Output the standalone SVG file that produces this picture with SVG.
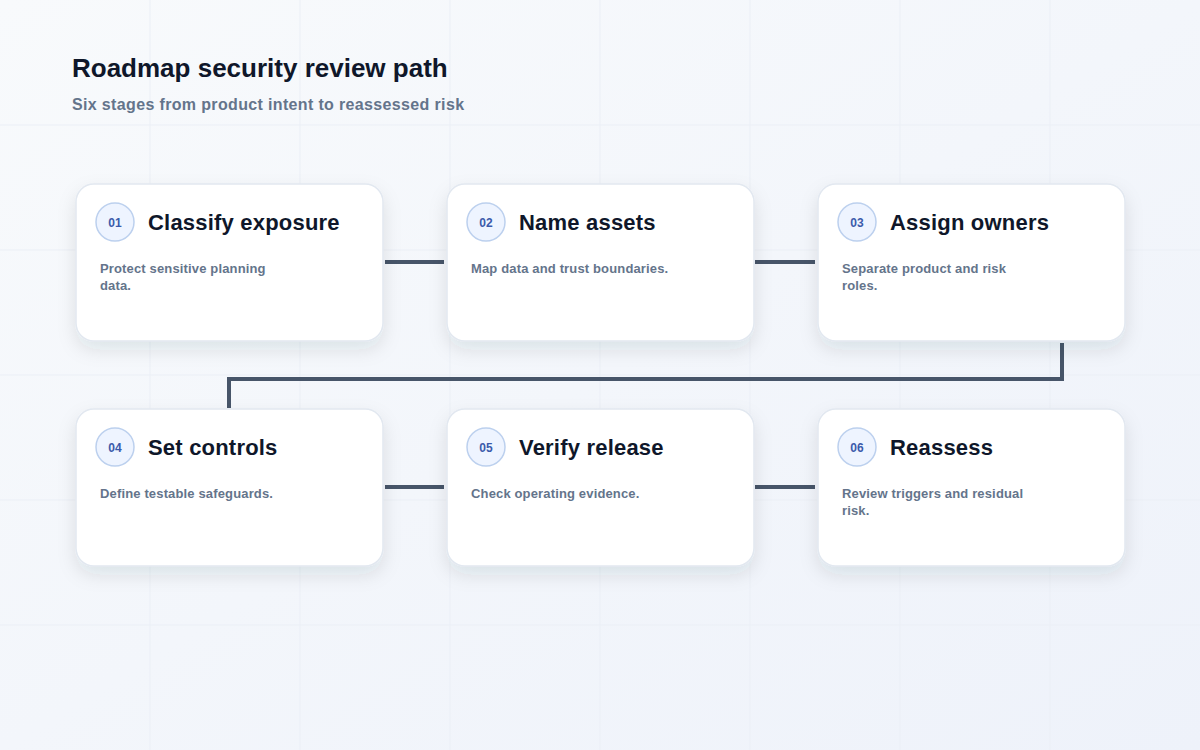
<svg xmlns="http://www.w3.org/2000/svg" width="1200" height="750" viewBox="0 0 1200 750">
<defs>
<linearGradient id="bg" x1="0" y1="0" x2="1" y2="1"><stop offset="0" stop-color="#f8fafc"/><stop offset="1" stop-color="#eef2fa"/></linearGradient>
<filter id="sh" x="-20%" y="-20%" width="140%" height="150%"><feDropShadow dx="0" dy="8" stdDeviation="9" flood-color="#1e293b" flood-opacity="0.10"/></filter>
<style>
.card{fill:#fff;stroke:#e2e8f0;stroke-width:1.5;filter:url(#sh)}
.badge{fill:#eef4ff;stroke:#bcd0ee;stroke-width:1.5}
.num{font-family:"Liberation Sans",Arial,sans-serif;font-size:12px;font-weight:bold;fill:#3b5bab;text-anchor:middle}
.ttl{font-family:"Liberation Sans",Arial,sans-serif;font-size:22px;font-weight:bold;fill:#0f172a;letter-spacing:0.2px}
.dsc{font-family:"Liberation Sans",Arial,sans-serif;font-size:13px;font-weight:bold;fill:#64748b;letter-spacing:0.15px}
.con{fill:none;stroke:#475569;stroke-width:4}
.grid{stroke:#ebeff6;stroke-width:1}
</style>
</defs>
<rect width="1200" height="750" fill="url(#bg)"/>
<g class="grid">
<line x1="150" y1="0" x2="150" y2="750"/><line x1="300" y1="0" x2="300" y2="750"/><line x1="450" y1="0" x2="450" y2="750"/><line x1="600" y1="0" x2="600" y2="750"/><line x1="750" y1="0" x2="750" y2="750"/><line x1="900" y1="0" x2="900" y2="750"/><line x1="1050" y1="0" x2="1050" y2="750"/>
<line x1="0" y1="125" x2="1200" y2="125"/><line x1="0" y1="250" x2="1200" y2="250"/><line x1="0" y1="375" x2="1200" y2="375"/><line x1="0" y1="500" x2="1200" y2="500"/><line x1="0" y1="625" x2="1200" y2="625"/>
</g>
<text x="72" y="77" font-family="Liberation Sans,Arial,sans-serif" font-size="26" font-weight="bold" fill="#0f172a">Roadmap security review path</text>
<text x="72" y="110" font-family="Liberation Sans,Arial,sans-serif" font-size="16" font-weight="bold" fill="#64748b" letter-spacing="0.35">Six stages from product intent to reassessed risk</text>
<g id="connectors">
<line class="con" x1="385" y1="262" x2="444" y2="262"/>
<line class="con" x1="755" y1="262" x2="815" y2="262"/>
<polyline class="con" points="1062,343 1062,379 229,379 229,408"/>
<line class="con" x1="385" y1="487" x2="444" y2="487"/>
<line class="con" x1="755" y1="487" x2="815" y2="487"/>
</g>
<g id="n1"><rect class="card" x="76" y="184" width="307" height="157" rx="18"/><circle class="badge" cx="115" cy="222" r="19"/><text class="num" x="115" y="227">01</text><text class="ttl" x="148" y="230">Classify exposure</text><text class="dsc" x="100" y="273">Protect sensitive planning</text><text class="dsc" x="100" y="290">data.</text></g>
<g id="n2"><rect class="card" x="447" y="184" width="307" height="157" rx="18"/><circle class="badge" cx="486" cy="222" r="19"/><text class="num" x="486" y="227">02</text><text class="ttl" x="519" y="230">Name assets</text><text class="dsc" x="471" y="273">Map data and trust boundaries.</text></g>
<g id="n3"><rect class="card" x="818" y="184" width="307" height="157" rx="18"/><circle class="badge" cx="857" cy="222" r="19"/><text class="num" x="857" y="227">03</text><text class="ttl" x="890" y="230">Assign owners</text><text class="dsc" x="842" y="273">Separate product and risk</text><text class="dsc" x="842" y="290">roles.</text></g>
<g id="n4"><rect class="card" x="76" y="409" width="307" height="157" rx="18"/><circle class="badge" cx="115" cy="447" r="19"/><text class="num" x="115" y="452">04</text><text class="ttl" x="148" y="455">Set controls</text><text class="dsc" x="100" y="498">Define testable safeguards.</text></g>
<g id="n5"><rect class="card" x="447" y="409" width="307" height="157" rx="18"/><circle class="badge" cx="486" cy="447" r="19"/><text class="num" x="486" y="452">05</text><text class="ttl" x="519" y="455">Verify release</text><text class="dsc" x="471" y="498">Check operating evidence.</text></g>
<g id="n6"><rect class="card" x="818" y="409" width="307" height="157" rx="18"/><circle class="badge" cx="857" cy="447" r="19"/><text class="num" x="857" y="452">06</text><text class="ttl" x="890" y="455">Reassess</text><text class="dsc" x="842" y="498">Review triggers and residual</text><text class="dsc" x="842" y="515">risk.</text></g>
</svg>
